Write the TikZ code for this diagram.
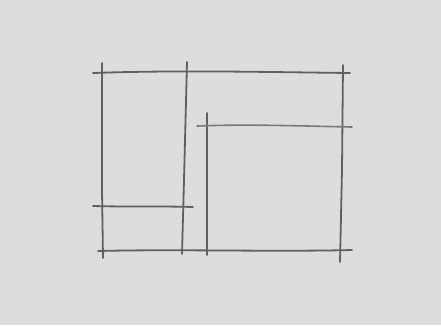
\documentclass[tikz,border=0pt]{standalone}
\usepackage{tikz}
\usetikzlibrary{calc}
\definecolor{paper}{HTML}{DCDDDF}
\definecolor{graphite}{HTML}{606062}

\begin{document}
\begin{tikzpicture}[x=1pt,y=-1pt,
   pencil/.style={graphite,line width=1.8pt,line cap=round},
   light/.style={pencil,line width=1.6pt,graphite!85}]
  \fill[paper] (0,0) rectangle (441,325);
  \useasboundingbox (0,0) rectangle (441,325);
  % outer frame
  \draw[pencil] (93,73) .. controls (180,70) and (260,72) .. (350,73);
  \draw[pencil] (98,251) .. controls (180,249) and (270,252) .. (352,250);
  \draw[pencil] (102,63) -- (102,190) -- (103,258);
  \draw[pencil] (343,65) -- (342,170) -- (340,262);
  % inner lines
  \draw[pencil] (187,62) -- (184,180) -- (182,254);
  \draw[pencil] (207,113) -- (207,255);
  \draw[light] (197,126) .. controls (250,124) and (300,126) .. (352,127);
  \draw[pencil] (93,206) .. controls (130,207) and (160,206) .. (193,207);
\end{tikzpicture}
\end{document}
